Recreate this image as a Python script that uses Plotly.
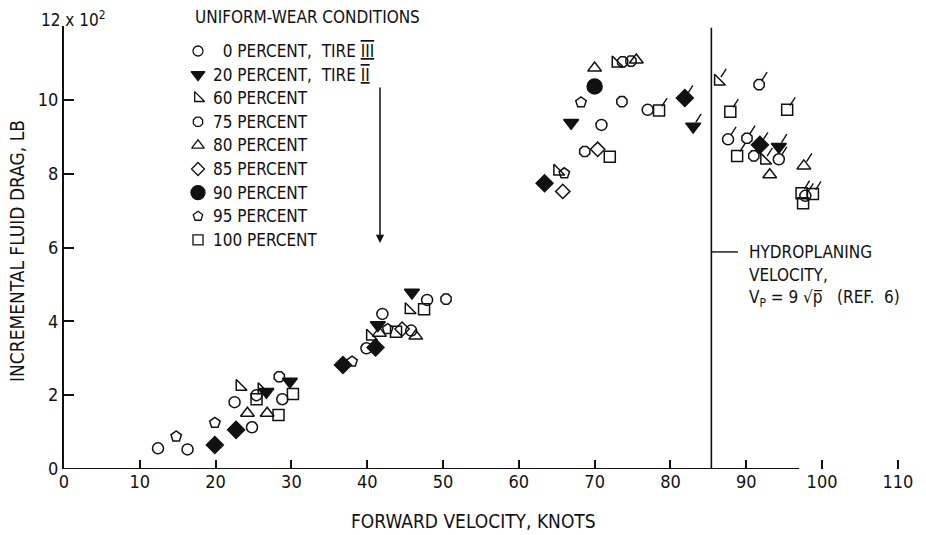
import plotly.graph_objects as go

# ---------------- data (knots, drag in units of 10^2 lb) ----------------
P0_X = [12.4, 16.3, 24.8, 22.5, 25.4, 28.8, 39.9, 42.0, 45.8, 47.9, 70.9, 77.0, 87.6, 94.3, 97.8]
P0_Y = [0.56, 0.53, 1.13, 1.81, 2.00, 1.89, 3.27, 4.20, 3.75, 4.58, 9.32, 9.73, 8.93, 8.39, 7.40]
P0_F = [0, 0, 0, 0, 0, 0, 0, 0, 0, 0, 0, 0, 1, 1, 1]

P20_X = [26.7, 29.8, 41.4, 45.9, 66.9, 83.0, 94.3]
P20_Y = [2.09, 2.37, 3.90, 4.78, 9.38, 9.28, 8.73]
P20_F = [0, 0, 0, 0, 0, 1, 1]

P60_X = [23.2, 26.1, 40.4, 45.5, 65.1, 72.8, 86.3, 92.4]
P60_Y = [2.23, 2.14, 3.59, 4.31, 8.06, 10.99, 10.50, 8.36]
P60_F = [0, 0, 0, 0, 0, 0, 1, 1]

P75_X = [28.4, 50.4, 68.7, 73.6, 73.7, 74.8, 90.1, 91.7, 91.0]
P75_Y = [2.50, 4.60, 8.60, 9.95, 11.03, 11.05, 8.96, 10.41, 8.48]
P75_F = [0, 0, 0, 0, 0, 0, 1, 1, 0]

P80_X = [24.2, 26.8, 41.6, 46.4, 70.0, 75.5, 93.1, 97.6]
P80_Y = [1.51, 1.51, 3.68, 3.60, 10.86, 11.08, 7.97, 8.21]
P80_F = [0, 0, 0, 0, 0, 0, 0, 1]

P85_X = [44.6, 65.8, 70.4]
P85_Y = [3.79, 7.52, 8.66]
P85_F = [0, 0, 0]

P90_X = [70.0]
P90_Y = [10.36]
P90_F = [0]

P95_X = [14.8, 19.9, 38.0, 42.7, 66.0, 68.2]
P95_Y = [0.88, 1.25, 2.91, 3.79, 8.01, 9.93]
P95_F = [0, 0, 0, 0, 0, 0]

P100_X = [25.4, 28.3, 30.2, 43.8, 47.5, 72.0, 78.5, 87.9, 88.8, 95.4, 97.3, 98.8, 97.5]
P100_Y = [1.89, 1.46, 2.03, 3.72, 4.33, 8.46, 9.71, 9.68, 8.48, 9.73, 7.47, 7.45, 7.20]
P100_F = [0, 0, 0, 0, 0, 0, 1, 1, 1, 1, 1, 1, 0]

# filled diamonds (not listed in the key)
FD_X = [19.9, 22.7, 36.8, 41.1, 63.4, 81.9, 91.8]
FD_Y = [0.65, 1.06, 2.82, 3.29, 7.74, 10.05, 8.78]
FD_F = [0, 0, 0, 0, 0, 1, 1]

HYDRO_V = 85.4          # hydroplaning velocity, knots
X_TICKS = [0, 10, 20, 30, 40, 50, 60, 70, 80, 90, 100, 110]
Y_TICKS = [0, 2, 4, 6, 8, 10]

LEGEND_TITLE = "UNIFORM-WEAR CONDITIONS"
RN = "<span style='text-decoration:overline underline'>{}</span>"
LEGEND_LABELS = ["\u20070 PERCENT,  TIRE " + RN.format("III"),
                 "20 PERCENT,  TIRE " + RN.format("II"),
                 "60 PERCENT", "75 PERCENT", "80 PERCENT", "85 PERCENT",
                 "90 PERCENT", "95 PERCENT", "100 PERCENT"]

# ---------------- styling ----------------
FONT = "DejaVu Sans Condensed, Liberation Sans Narrow, Arial Narrow, sans-serif"
BLACK = "#111111"
W, H = 926, 535
L, R, T, B = 64, 13, 26, 66
X_MAX, Y_MAX = 112, 12
PW, PH = W - L - R, H - T - B
KEY_FS, NOTE_FS, TITLE_FS, TICK_FS = 17, 17, 19, 18


def px(x):
    return (x - L) / PW


def py(y):
    return (H - B - y) / PH


series = [
    (P0_X, P0_Y, P0_F, "circle-open", 11),
    (P20_X, P20_Y, P20_F, "triangle-down", 13),
    (P60_X, P60_Y, P60_F, "triangle-sw-open", 12),
    (P75_X, P75_Y, P75_F, "octagon-open", 11),
    (P80_X, P80_Y, P80_F, "triangle-up-open", 12),
    (P85_X, P85_Y, P85_F, "diamond-open", 11),
    (P90_X, P90_Y, P90_F, "circle", 15),
    (P95_X, P95_Y, P95_F, "pentagon-open", 11),
    (P100_X, P100_Y, P100_F, "square-open", 11),
]
extra = (FD_X, FD_Y, FD_F, "diamond", 13)

fig = go.Figure()
annotations = []


def add_series(xs, ys, fs, sym, size):
    fig.add_trace(go.Scatter(
        x=xs, y=ys, mode="markers", cliponaxis=False, showlegend=False,
        marker=dict(symbol=sym, size=size, color=BLACK, line=dict(color=BLACK, width=1.5))))
    for x, y, f in zip(xs, ys, fs):
        if f:
            annotations.append(dict(x=x, y=y, xref="x", yref="y", text="", showarrow=True,
                                    ax=9, ay=-14, arrowhead=0, arrowwidth=1.4,
                                    arrowcolor=BLACK, standoff=5))


for s in series:
    add_series(*s)
add_series(*extra)

# ---------------- key (markers on a pixel-scaled overlay axis) ----------------
KEY_MARK_X, KEY_TEXT_X, KEY_TOP, KEY_ROW = 198, 211, 51, 23.6
key_y = [KEY_TOP + i * KEY_ROW for i in range(len(series))]
for (xs, ys, fs, sym, size), ky, lab in zip(series, key_y, LEGEND_LABELS):
    fig.add_trace(go.Scatter(
        x=[KEY_MARK_X], y=[ky], xaxis="x2", yaxis="y2", mode="markers", cliponaxis=False,
        showlegend=False, hoverinfo="skip",
        marker=dict(symbol=sym, size=size - 1, color=BLACK, line=dict(color=BLACK, width=1.3))))
    annotations.append(dict(x=px(KEY_TEXT_X), y=py(ky), xref="paper", yref="paper", text=lab,
                            showarrow=False, xanchor="left", yanchor="middle",
                            font=dict(size=KEY_FS)))
annotations.append(dict(x=px(KEY_MARK_X - 5), y=py(17), xref="paper", yref="paper",
                        text=LEGEND_TITLE, showarrow=False, xanchor="left", yanchor="middle",
                        font=dict(size=KEY_FS)))
# arrow from key down to the data
annotations.append(dict(x=380, y=243, xref="x2", yref="y2", ax=380, ay=86, axref="x2", ayref="y2",
                        text="", showarrow=True, arrowhead=2, arrowsize=1.1, arrowwidth=1.5,
                        arrowcolor=BLACK))

# y-axis multiplier label
annotations.append(dict(x=px(73), y=py(19), xref="paper", yref="paper",
                        text="12 x 10<sup>2</sup>", showarrow=False,
                        xanchor="center", yanchor="middle", font=dict(size=17)))

# hydroplaning note
for txt, yy in [("HYDROPLANING", 252), ("VELOCITY,", 275),
                ("V<sub>P</sub> = 9 \u221Ap\u0305   (REF.  6)", 298)]:
    annotations.append(dict(x=px(747), y=py(yy), xref="paper", yref="paper", text=txt,
                            showarrow=False, xanchor="left", yanchor="middle",
                            font=dict(size=NOTE_FS)))

# axis titles
annotations.append(dict(x=px(473), y=py(521), xref="paper", yref="paper",
                        text="FORWARD VELOCITY, KNOTS", showarrow=False,
                        font=dict(size=TITLE_FS), xanchor="center", yanchor="middle"))
annotations.append(dict(x=px(17), y=py(251), xref="paper", yref="paper",
                        text="INCREMENTAL FLUID DRAG, LB", showarrow=False,
                        textangle=-90, font=dict(size=TITLE_FS), xanchor="center",
                        yanchor="middle"))

shapes = [
    dict(type="line", xref="x", yref="y", x0=0, x1=97, y0=0, y1=0,
         line=dict(color=BLACK, width=2)),
    dict(type="line", xref="x", yref="y", x0=HYDRO_V, x1=HYDRO_V, y0=0, y1=11.95,
         line=dict(color=BLACK, width=1.6)),
    dict(type="line", xref="x", yref="y", x0=HYDRO_V, x1=HYDRO_V + 3.5, y0=5.88, y1=5.88,
         line=dict(color=BLACK, width=1.4)),
]

fig.update_layout(
    width=W, height=H, margin=dict(l=L, r=R, t=T, b=B),
    paper_bgcolor="white", plot_bgcolor="white",
    font=dict(family=FONT, color=BLACK, size=16),
    xaxis=dict(range=[0, X_MAX], tickvals=X_TICKS, ticktext=[str(v) for v in X_TICKS],
               ticks="inside", ticklen=9, tickwidth=1.5, tickcolor=BLACK,
               showline=False, showgrid=False, zeroline=False, tickfont=dict(size=TICK_FS)),
    yaxis=dict(range=[0, Y_MAX], tickvals=Y_TICKS, ticktext=[str(v) for v in Y_TICKS],
               ticks="inside", ticklen=10, tickwidth=1.5, tickcolor=BLACK,
               showline=True, linecolor=BLACK, linewidth=2,
               showgrid=False, zeroline=False, tickfont=dict(size=TICK_FS)),
    xaxis2=dict(range=[L, W - R], overlaying="x", visible=False, fixedrange=True),
    yaxis2=dict(range=[H - B, T], overlaying="y", visible=False, fixedrange=True),
    annotations=annotations, shapes=shapes, showlegend=False,
)

fig.write_html("out.html", config={"displayModeBar": False},
               post_script="document.body.style.margin='0';")
